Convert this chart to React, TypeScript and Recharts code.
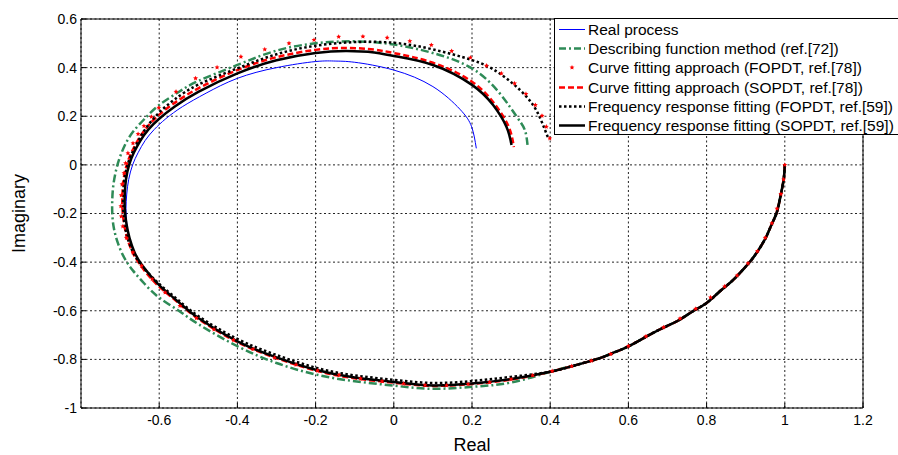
import {
  CartesianGrid,
  ComposedChart,
  Label,
  Line,
  Scatter,
  XAxis,
  YAxis,
} from "recharts";

const xTicks = [-0.6, -0.4, -0.2, 0, 0.2, 0.4, 0.6, 0.8, 1, 1.2];
const yTicks = [-1, -0.8, -0.6, -0.4, -0.2, 0, 0.2, 0.4, 0.6];

// right/bottom branch, where all the models sit on top of each other
const sharedRe = [1, 0.998, 0.994, 0.987, 0.979, 0.966, 0.953, 0.936, 0.915, 0.889, 0.864, 0.834, 0.8, 0.765, 0.731, 0.697, 0.655, 0.601, 0.561, 0.527, 0.46, 0.4];
const sharedIm = [0, -0.048, -0.089, -0.144, -0.198, -0.246, -0.294, -0.342, -0.39, -0.438, -0.479, -0.52, -0.568, -0.602, -0.637, -0.664, -0.698, -0.746, -0.773, -0.795, -0.826, -0.851];

// Real process
const realRe = [0.3, 0.2, 0.1, 0, -0.1, -0.2, -0.3, -0.4, -0.5, -0.55, -0.59, -0.62, -0.645, -0.663, -0.676, -0.683, -0.685, -0.683, -0.678, -0.668, -0.654, -0.636, -0.613, -0.583, -0.54, -0.48, -0.4, -0.3, -0.2, -0.15, -0.1, 0, 0.1, 0.169, 0.199, 0.211];
const realIm = [-0.881, -0.899, -0.907, -0.893, -0.875, -0.843, -0.792, -0.726, -0.63, -0.565, -0.51, -0.46, -0.41, -0.36, -0.3, -0.24, -0.18, -0.12, -0.06, 0, 0.05, 0.1, 0.145, 0.19, 0.24, 0.295, 0.356, 0.4, 0.425, 0.427, 0.422, 0.39, 0.322, 0.229, 0.157, 0.068];

// Describing function method (ref.[72])
const dfRe = [0.3, 0.2, 0.1, 0, -0.1, -0.2, -0.3, -0.4, -0.5, -0.55, -0.6, -0.637, -0.667, -0.69, -0.706, -0.716, -0.72, -0.72, -0.717, -0.71, -0.7, -0.685, -0.665, -0.637, -0.6, -0.55, -0.5, -0.4, -0.3, -0.2, -0.1, 0, 0.1, 0.2, 0.271, 0.314, 0.335, 0.342];
const dfIm = [-0.895, -0.913, -0.921, -0.908, -0.89, -0.862, -0.815, -0.746, -0.655, -0.6, -0.546, -0.49, -0.435, -0.38, -0.32, -0.26, -0.2, -0.14, -0.08, -0.02, 0.034, 0.09, 0.14, 0.19, 0.246, 0.3, 0.345, 0.411, 0.47, 0.5, 0.508, 0.495, 0.46, 0.397, 0.294, 0.199, 0.144, 0.082];

// Curve fitting approach (FOPDT, ref.[78]) - star markers
const cfFoRe = [1, 0.997, 0.99, 0.98, 0.967, 0.95, 0.93, 0.906, 0.878, 0.846, 0.81, 0.772, 0.732, 0.69, 0.645, 0.6, 0.555, 0.505, 0.455, 0.405, 0.355, 0.3, 0.245, 0.19, 0.135, 0.08, 0.025, -0.03, -0.085, -0.14, -0.195, -0.25, -0.305, -0.36, -0.41, -0.46, -0.505, -0.547, -0.585, -0.618, -0.645, -0.667, -0.684, -0.693, -0.697, -0.698, -0.697, -0.695, -0.69, -0.686, -0.68, -0.667, -0.654, -0.639, -0.62, -0.601, -0.557, -0.507, -0.452, -0.391, -0.33, -0.268, -0.204, -0.141, -0.079, -0.017, 0.041, 0.096, 0.148, 0.196, 0.237, 0.275, 0.309, 0.338, 0.362, 0.379, 0.39, 0.399];
const cfFoIm = [0, -0.06, -0.12, -0.18, -0.24, -0.3, -0.355, -0.405, -0.455, -0.5, -0.545, -0.592, -0.632, -0.668, -0.705, -0.745, -0.778, -0.806, -0.828, -0.848, -0.866, -0.882, -0.894, -0.902, -0.907, -0.906, -0.9, -0.89, -0.879, -0.864, -0.846, -0.822, -0.793, -0.758, -0.72, -0.677, -0.63, -0.58, -0.525, -0.47, -0.415, -0.36, -0.3, -0.253, -0.212, -0.17, -0.125, -0.08, -0.034, 0.007, 0.048, 0.089, 0.127, 0.16, 0.198, 0.235, 0.301, 0.356, 0.401, 0.445, 0.475, 0.5, 0.514, 0.527, 0.528, 0.523, 0.509, 0.493, 0.468, 0.441, 0.408, 0.376, 0.335, 0.292, 0.246, 0.202, 0.157, 0.109];

// Curve fitting approach (SOPDT, ref.[78])
const cfSoRe = [0.3, 0.2, 0.1, 0, -0.1, -0.2, -0.3, -0.4, -0.5, -0.55, -0.59, -0.622, -0.649, -0.668, -0.682, -0.69, -0.694, -0.694, -0.691, -0.683, -0.671, -0.655, -0.636, -0.608, -0.565, -0.5, -0.4, -0.3, -0.2, -0.12, -0.05, 0, 0.1, 0.2, 0.256, 0.293, 0.307];
const cfSoIm = [-0.883, -0.901, -0.909, -0.896, -0.878, -0.846, -0.795, -0.729, -0.633, -0.569, -0.515, -0.465, -0.41, -0.36, -0.3, -0.24, -0.18, -0.12, -0.06, 0, 0.05, 0.1, 0.145, 0.195, 0.25, 0.315, 0.39, 0.443, 0.473, 0.481, 0.474, 0.46, 0.42, 0.342, 0.254, 0.16, 0.073];

// Frequency response fitting (FOPDT, ref.[59])
const frFoRe = [0.3, 0.2, 0.1, 0, -0.1, -0.2, -0.3, -0.4, -0.5, -0.55, -0.59, -0.622, -0.649, -0.668, -0.681, -0.689, -0.692, -0.692, -0.689, -0.681, -0.669, -0.653, -0.632, -0.6, -0.56, -0.5, -0.4, -0.3, -0.2, -0.1, 0, 0.1, 0.2, 0.271, 0.339, 0.373, 0.39, 0.395];
const frFoIm = [-0.872, -0.889, -0.897, -0.884, -0.866, -0.834, -0.782, -0.716, -0.622, -0.558, -0.504, -0.455, -0.405, -0.355, -0.3, -0.24, -0.18, -0.12, -0.06, 0, 0.05, 0.1, 0.155, 0.215, 0.27, 0.33, 0.397, 0.455, 0.49, 0.505, 0.502, 0.475, 0.431, 0.376, 0.281, 0.197, 0.13, 0.11];

// Frequency response fitting (SOPDT, ref.[59])
const frSoRe = [0.3, 0.2, 0.1, 0, -0.1, -0.2, -0.3, -0.4, -0.5, -0.55, -0.59, -0.62, -0.645, -0.663, -0.676, -0.684, -0.688, -0.688, -0.685, -0.677, -0.665, -0.648, -0.628, -0.6, -0.56, -0.5, -0.4, -0.3, -0.2, -0.12, -0.05, 0, 0.1, 0.2, 0.254, 0.288, 0.301];
const frSoIm = [-0.881, -0.899, -0.907, -0.893, -0.875, -0.843, -0.792, -0.726, -0.63, -0.565, -0.51, -0.46, -0.41, -0.36, -0.3, -0.24, -0.18, -0.12, -0.06, 0, 0.05, 0.1, 0.145, 0.19, 0.24, 0.3, 0.376, 0.43, 0.46, 0.468, 0.462, 0.448, 0.411, 0.329, 0.246, 0.157, 0.082];

const toPoints = (re: number[], im: number[]) => re.map((x, i) => ({ x, y: im[i] }));
const withShared = (re: number[], im: number[]) => [
  ...toPoints(sharedRe, sharedIm),
  ...toPoints(re, im),
];

const realData = withShared(realRe, realIm);
const dfData = withShared(dfRe, dfIm);
const cfFoData = toPoints(cfFoRe, cfFoIm);
const cfSoData = withShared(cfSoRe, cfSoIm);
const frFoData = withShared(frFoRe, frFoIm);
const frSoData = withShared(frSoRe, frSoIm);

const GREEN = "#2E8B57";
const FONT = '"Liberation Sans", Arial, Helvetica, sans-serif';

function starPath(cx: number, cy: number) {
  const pts: string[] = [];
  for (let k = 0; k < 10; k++) {
    const r = k % 2 === 0 ? 2.6 : 1.2;
    const a = -Math.PI / 2 + (k * Math.PI) / 5;
    pts.push(`${cx + r * Math.cos(a)},${cy + r * Math.sin(a)}`);
  }
  return pts.join(" ");
}

function StarDot(props: any) {
  const { cx, cy } = props;
  if (cx == null || cy == null) return null;
  return <polygon points={starPath(cx, cy)} fill="#ff0000" />;
}

const legendItems = [
  { label: "Real process", kind: "blue" },
  { label: "Describing function method (ref.[72])", kind: "dashdot" },
  { label: "Curve fitting approach (FOPDT, ref.[78])", kind: "star" },
  { label: "Curve fitting approach (SOPDT, ref.[78])", kind: "dashed" },
  { label: "Frequency response fitting (FOPDT, ref.[59])", kind: "dotted" },
  { label: "Frequency response fitting (SOPDT, ref.[59])", kind: "solid" },
];

function Sample({ kind }: { kind: string }) {
  let mark;
  if (kind === "blue") mark = <line x1={4} x2={30} y1={9.5} y2={9.5} stroke="#0000ff" strokeWidth={1} />;
  else if (kind === "dashdot")
    mark = <line x1={4} x2={30} y1={9.5} y2={9.5} stroke={GREEN} strokeWidth={2.5} strokeDasharray="7 3 2 3" />;
  else if (kind === "star") mark = <polygon points={starPath(17, 9.5)} fill="#ff0000" />;
  else if (kind === "dashed")
    mark = <line x1={4} x2={30} y1={9.5} y2={9.5} stroke="#ff0000" strokeWidth={2.5} strokeDasharray="6 3" />;
  else if (kind === "dotted")
    mark = <line x1={4} x2={30} y1={9.5} y2={9.5} stroke="#000" strokeWidth={2.5} strokeDasharray="2.5 2.5" />;
  else mark = <line x1={4} x2={30} y1={9.5} y2={9.5} stroke="#000" strokeWidth={2.5} />;
  return (
    <svg width={33} height={19} style={{ display: "block", flex: "none" }}>
      {mark}
    </svg>
  );
}

function NyquistLegend() {
  return (
    <div
      style={{
        position: "absolute",
        left: 554,
        top: 18,
        width: 360,
        height: 117,
        border: "1px solid #000",
        background: "#fff",
        boxSizing: "border-box",
        paddingTop: 1,
        zIndex: 2,
      }}
    >
      {legendItems.map((item) => (
        <div
          key={item.label}
          style={{ display: "flex", alignItems: "center", height: 19.2, whiteSpace: "nowrap" }}
        >
          <Sample kind={item.kind} />
          <span style={{ fontSize: 15.5, lineHeight: "19px", color: "#000" }}>{item.label}</span>
        </div>
      ))}
    </div>
  );
}

const fmt = (v: number) => String(Number(v.toFixed(1)));

export default function App() {
  return (
    <div
      style={{
        position: "absolute",
        left: 0,
        top: 0,
        width: 898,
        height: 455,
        overflow: "hidden",
        background: "#fff",
        fontFamily: FONT,
      }}
    >
      <ComposedChart width={898} height={455} margin={{ top: 18, right: 34, bottom: 0, left: 0 }}>
        <CartesianGrid stroke="#222" strokeDasharray="2 2.5" strokeWidth={1} />
        <XAxis
          type="number"
          dataKey="x"
          domain={[-0.8, 1.2]}
          ticks={xTicks}
          allowDataOverflow
          height={47}
          tickSize={-5}
          tickMargin={12}
          stroke="#000"
          tick={{ fontSize: 14, fill: "#000", fontFamily: FONT }}
          tickFormatter={fmt}
        >
          <Label value="Real" position="insideBottom" offset={4} style={{ fontSize: 18, fill: "#000", fontFamily: FONT }} />
        </XAxis>
        <XAxis
          xAxisId="top"
          orientation="top"
          type="number"
          dataKey="x"
          domain={[-0.8, 1.2]}
          ticks={xTicks}
          allowDataOverflow
          height={1}
          tickSize={-5}
          tick={false}
          stroke="#000"
        />
        <YAxis
          type="number"
          dataKey="y"
          domain={[-1, 0.6]}
          ticks={yTicks}
          allowDataOverflow
          width={81}
          tickSize={-5}
          tickMargin={9}
          stroke="#000"
          tick={{ fontSize: 14, fill: "#000", fontFamily: FONT }}
          tickFormatter={fmt}
        >
          <Label
            value="Imaginary"
            angle={-90}
            position="center"
            dx={-22}
            style={{ fontSize: 18, fill: "#000", fontFamily: FONT, textAnchor: "middle" }}
          />
        </YAxis>
        <YAxis
          yAxisId="right"
          orientation="right"
          type="number"
          dataKey="y"
          domain={[-1, 0.6]}
          ticks={yTicks}
          allowDataOverflow
          width={1}
          tickSize={-5}
          tick={false}
          stroke="#000"
        />
        <Line
          data={realData}
          dataKey="y"
          type="natural"
          stroke="#0000ff"
          strokeWidth={1}
          dot={false}
          activeDot={false}
          isAnimationActive={false}
        />
        <Line
          data={dfData}
          dataKey="y"
          type="natural"
          stroke={GREEN}
          strokeWidth={2.5}
          strokeDasharray="8 3 2 3"
          dot={false}
          activeDot={false}
          isAnimationActive={false}
        />
        <Scatter data={cfFoData} dataKey="y" shape={<StarDot />} isAnimationActive={false} />
        <Line
          data={cfSoData}
          dataKey="y"
          type="natural"
          stroke="#ff0000"
          strokeWidth={2.5}
          strokeDasharray="6 3"
          dot={false}
          activeDot={false}
          isAnimationActive={false}
        />
        <Line
          data={frFoData}
          dataKey="y"
          type="natural"
          stroke="#000"
          strokeWidth={2.5}
          strokeDasharray="2.5 2.5"
          dot={false}
          activeDot={false}
          isAnimationActive={false}
        />
        <Line
          data={frSoData}
          dataKey="y"
          type="natural"
          stroke="#000"
          strokeWidth={2.5}
          dot={false}
          activeDot={false}
          isAnimationActive={false}
        />
      </ComposedChart>
      <NyquistLegend />
    </div>
  );
}
